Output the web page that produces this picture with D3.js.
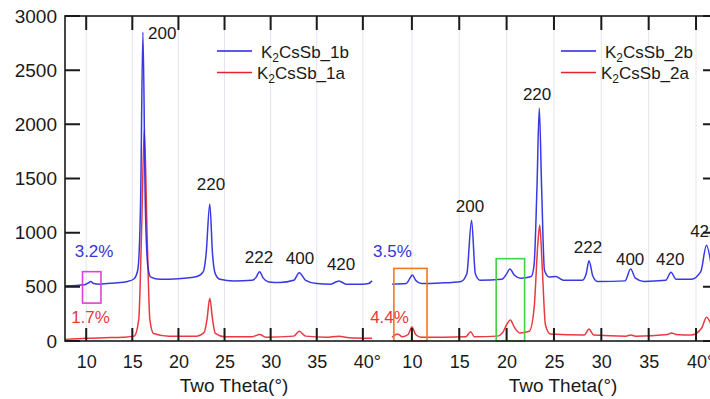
<!DOCTYPE html>
<html>
<head>
<meta charset="utf-8">
<script src="https://cdn.jsdelivr.net/npm/d3@7"></script>
<style>
  body { margin: 0; background: #fff; }
  svg { display: block; font-family: "Liberation Sans", Arial, sans-serif; }
</style>
</head>
<body>
<svg id="chart" width="710" height="399"></svg>
<script>
// sample 1 (left panel)
const theta1b = [7.7, 9.8, 10.3, 10.5, 10.8, 11.5, 13, 14.5, 15.2, 15.6, 15.9, 16.15, 16.4, 16.7, 17.0, 18, 20, 22, 22.7, 23.0, 23.4, 23.7, 24.0, 24.5, 26, 28, 28.4, 28.8, 29.2, 29.8, 31, 32.5, 33.1, 33.8, 35, 36.5, 37.4, 38.2, 40, 40.6, 41.0];
const int1b   = [510, 520, 540, 550, 530, 525, 535, 550, 575, 660, 1300, 2850, 1300, 680, 590, 570, 575, 595, 640, 800, 1265, 800, 620, 570, 555, 560, 585, 640, 580, 545, 540, 560, 630, 560, 530, 525, 555, 525, 525, 530, 555];
const theta1a = [7.7, 10, 12, 14, 15.2, 15.7, 16.0, 16.3, 16.6, 16.9, 17.3, 19, 22, 22.8, 23.1, 23.4, 23.7, 24.0, 25, 28, 28.8, 29.5, 32.5, 33.1, 33.8, 36, 37.4, 38.5, 41];
const int1a   = [15, 25, 30, 35, 45, 200, 1000, 1950, 1000, 200, 70, 45, 45, 80, 200, 395, 200, 70, 40, 40, 60, 35, 45, 90, 45, 35, 45, 30, 25];

// sample 2 (right panel)
const theta2b = [7.9, 9.4, 9.8, 10.05, 10.4, 11, 13, 15.2, 15.8, 16.3, 16.7, 17.2, 19.5, 20.0, 20.35, 20.8, 21.5, 22.6, 22.9, 23.2, 23.45, 23.7, 24.0, 24.5, 25.2, 26, 28, 28.4, 28.7, 29.1, 29.6, 32.5, 33.1, 33.6, 34.5, 36.8, 37.35, 37.9, 39.5, 40.5, 41.1, 41.6];
const int2b   = [525, 530, 580, 610, 560, 530, 535, 550, 620, 1115, 620, 560, 570, 620, 665, 610, 580, 595, 700, 1400, 2150, 1400, 650, 590, 595, 560, 560, 620, 740, 600, 550, 555, 665, 580, 550, 560, 635, 570, 570, 640, 885, 700];
const theta2a = [7.9, 8.5, 9.0, 9.6, 10.0, 10.4, 11, 15.7, 16.2, 16.6, 19.0, 19.6, 20.0, 20.4, 20.8, 21.4, 22.4, 22.9, 23.3, 23.5, 23.75, 24.1, 24.6, 28.2, 28.7, 29.2, 32.6, 33.1, 33.6, 37.0, 37.4, 37.9, 39.5, 40.6, 41.1, 41.6];
const int2a   = [35, 65, 40, 60, 130, 60, 35, 40, 85, 40, 45, 80, 150, 195, 130, 75, 90, 300, 900, 1070, 700, 150, 65, 55, 110, 55, 45, 55, 45, 60, 75, 60, 55, 120, 220, 150];

const xTicks = [10, 15, 20, 25, 30, 35, 40];
const yTicks = [0, 500, 1000, 1500, 2000, 2500, 3000];
const legend1 = ["1b", "1a"];
const legend2 = ["2b", "2a"];

// peak labels [theta, intensity, text]
const peaks1 = [[16.7, 2790, "200"], [23.53, 1394, "220"], [28.74, 720, "222"], [33.19, 710, "400"], [37.64, 655, "420"]];
const peaks2 = [[16.14, 1190, "200"], [23.22, 2225, "220"], [28.6, 812, "222"], [33.04, 700, "400"], [37.27, 700, "420"], [39.38, 960, "422"]];
// percentage labels [theta, intensity, text]
const pct1 = [[10.85, 775, "3.2%"], [10.47, 166, "1.7%"]];
const pct2 = [[7.95, 775, "3.5%"], [7.64, 166, "4.4%"]];
// highlight boxes [theta0, theta1, I0, I1]
const box1 = [9.6, 11.6, 350, 640];
const box2a = [8.1, 11.6, 0, 670];
const box2b = [18.9, 21.9, 0, 760];

const svg = d3.select("#chart");
const mTop = 16, mBottom = 341, mLeft = 65, mRight = 711;

const y = d3.scaleLinear().domain([0, 3000]).range([mBottom, mTop]);
const xL = d3.scaleLinear().domain([7.7, 41.1]).range([mLeft, 373]);
const xR = d3.scaleLinear().domain([7.9, 41.58]).range([392, mRight]);

const blue = "#2424e0", red = "#e8222a", ink = "#1a1a1a";

// faint grid
[xL, xR].forEach(x => {
  svg.append("g").selectAll("line").data(xTicks).join("line")
    .attr("x1", d => x(d)).attr("x2", d => x(d))
    .attr("y1", mTop).attr("y2", mBottom)
    .attr("stroke", "#e4e4ee").attr("stroke-width", 1);
});

svg.append("clipPath").attr("id", "clipR").append("rect")
  .attr("x", 380).attr("y", 0).attr("width", mRight - 380).attr("height", mBottom);

function curve(x, th, vals, color, clip) {
  const line = d3.line().x(d => x(d[0])).y(d => y(d[1])).curve(d3.curveMonotoneX);
  const p = svg.append("path")
    .datum(d3.zip(th, vals))
    .attr("d", line)
    .attr("fill", "none")
    .attr("stroke", color)
    .attr("stroke-width", 1.5)
    .attr("stroke-opacity", 0.9);
  if (clip) p.attr("clip-path", "url(#clipR)");
}
curve(xL, theta1a, int1a, red);
curve(xL, theta1b, int1b, blue);
curve(xR, theta2a, int2a, red, true);
curve(xR, theta2b, int2b, blue, true);

// boxes
function box(x, b, color) {
  svg.append("rect")
    .attr("x", x(b[0])).attr("y", y(b[3]))
    .attr("width", x(b[1]) - x(b[0])).attr("height", y(b[2]) - y(b[3]))
    .attr("fill", "none").attr("stroke", color).attr("stroke-width", 1.6);
}
box(xL, box1, "#e040d8");
box(xR, box2a, "#f07828");
box(xR, box2b, "#44d044");

// tick marks pointing inward from the frame
const tickPath = d3.path();
[xL, xR].forEach(x => {
  xTicks.forEach(t => {
    tickPath.moveTo(x(t), mBottom); tickPath.lineTo(x(t), mBottom - 13);
    tickPath.moveTo(x(t), mTop); tickPath.lineTo(x(t), mTop + 14);
  });
});
yTicks.forEach(t => {
  tickPath.moveTo(mLeft, y(t)); tickPath.lineTo(mLeft + 15, y(t));
  tickPath.moveTo(mRight - 8, y(t)); tickPath.lineTo(mRight, y(t));
});
svg.append("path").attr("d", tickPath.toString())
  .attr("fill", "none").attr("stroke", ink).attr("stroke-width", 2);

// tick labels through d3 axes
[xL, xR].forEach(x => {
  svg.append("g").attr("transform", `translate(0,${mBottom})`)
    .call(d3.axisBottom(x).tickValues(xTicks).tickSize(0).tickPadding(14)
      .tickFormat(d => d === 40 ? "40°" : d))
    .call(g => g.select(".domain").remove())
    .call(g => g.selectAll("text").attr("font-size", 18).attr("fill", ink)
      .attr("font-family", "Liberation Sans, Arial, sans-serif")
      .attr("dx", d => d === 40 ? 4 : 0));
});

svg.append("g").attr("transform", `translate(${mLeft},0)`)
  .call(d3.axisLeft(y).tickValues(yTicks).tickSize(0).tickPadding(8).tickFormat(d3.format("d")))
  .call(g => g.select(".domain").remove())
  .call(g => g.selectAll("text").attr("font-size", 19).attr("fill", ink)
    .attr("font-family", "Liberation Sans, Arial, sans-serif"));

// frame
svg.append("rect")
  .attr("x", mLeft).attr("y", mTop)
  .attr("width", mRight - mLeft).attr("height", mBottom - mTop)
  .attr("fill", "none").attr("stroke", ink).attr("stroke-width", 1.6);

// axis titles
[234, 563].forEach(cx => {
  svg.append("text").attr("x", cx).attr("y", 392)
    .attr("text-anchor", "middle").attr("font-size", 19).attr("fill", ink)
    .text("Two Theta(°)");
});

// peak labels
function labels(x, arr, startAnchored) {
  svg.append("g").selectAll("text").data(arr).join("text")
    .attr("x", d => x(d[0])).attr("y", d => y(d[1]))
    .attr("text-anchor", d => startAnchored.includes(d[2]) ? "start" : "middle")
    .attr("font-size", 17).attr("fill", ink)
    .text(d => d[2]);
}
labels(xL, peaks1, ["200"]);
labels(xR, peaks2, ["422"]);

function pctLabels(x, arr) {
  svg.append("g").selectAll("text").data(arr).join("text")
    .attr("x", d => x(d[0])).attr("y", d => y(d[1]))
    .attr("text-anchor", "middle").attr("font-size", 17)
    .attr("fill", (d, i) => i === 0 ? "#3434d8" : "#e53a3a")
    .text(d => d[2]);
}
pctLabels(xL, pct1);
pctLabels(xR, pct2);

// legends
function legend(x0, names, textX) {
  names.forEach((n, i) => {
    const ly = i === 0 ? 51 : 72.5;
    const col = i === 0 ? blue : red;
    svg.append("line").attr("x1", x0).attr("x2", x0 + 35)
      .attr("y1", ly).attr("y2", ly)
      .attr("stroke", col).attr("stroke-width", 1.6);
    const t = svg.append("text").attr("x", textX[i]).attr("y", ly + 6.5)
      .attr("font-size", 17).attr("fill", ink);
    t.append("tspan").text("K");
    t.append("tspan").attr("font-size", 12).attr("dy", 4).text("2");
    t.append("tspan").attr("dy", -4).text("CsSb_" + n);
  });
}
legend(217, legend1, [261, 257]);
legend(561, legend2, [605, 601]);
</script>
</body>
</html>
